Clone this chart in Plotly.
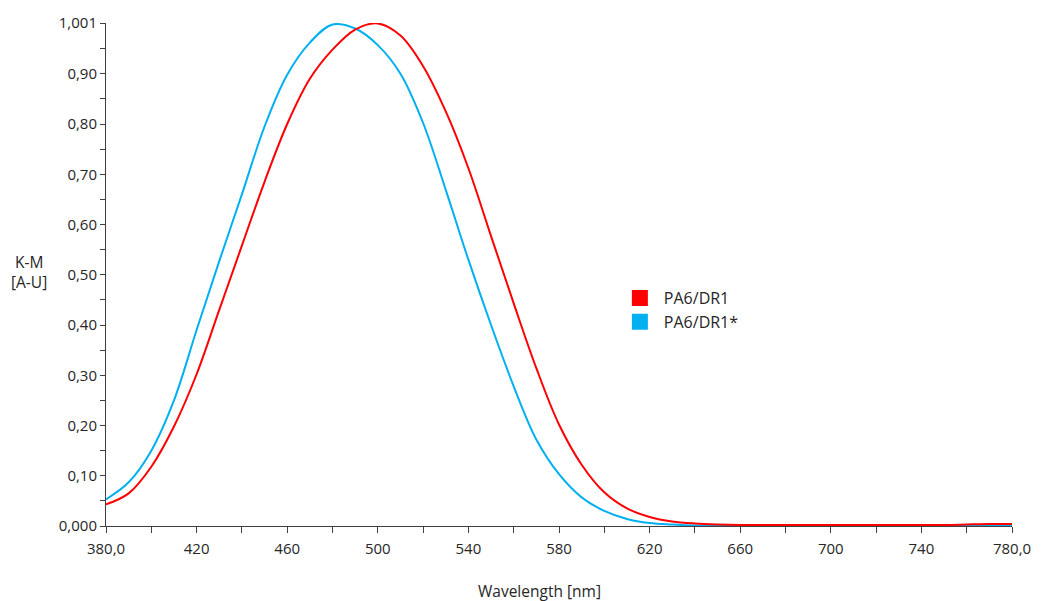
import plotly.graph_objects as go

wavelength = list(range(380, 790, 10))
pa6_dr1 = [0.043, 0.065, 0.118, 0.198, 0.302, 0.430, 0.558, 0.685, 0.800, 0.890,
           0.948, 0.988, 1.000, 0.976, 0.915, 0.825, 0.712, 0.577, 0.443, 0.314,
           0.202, 0.122, 0.067, 0.035, 0.018, 0.009, 0.005, 0.003, 0.002, 0.002,
           0.002, 0.002, 0.002, 0.002, 0.002, 0.002, 0.002, 0.002, 0.003, 0.004, 0.004]
pa6_dr1_star = [0.053, 0.087, 0.150, 0.250, 0.390, 0.527, 0.660, 0.795, 0.898, 0.962,
                0.998, 0.990, 0.957, 0.900, 0.802, 0.669, 0.530, 0.400, 0.278, 0.172,
                0.103, 0.057, 0.030, 0.014, 0.006, 0.003, 0.001, 0.0005, 0.0, 0.0,
                0.0, 0.0, 0.0, 0.0, 0.0, 0.0, 0.0, 0.0, 0.001, 0.002, 0.002]

x_tickvals = [380, 420, 460, 500, 540, 580, 620, 660, 700, 740, 780]
x_ticktext = ["380,0", "420", "460", "500", "540", "580", "620", "660", "700", "740", "780,0"]
x_minor = [400, 440, 480, 520, 560, 600, 640, 680, 720, 760]
y_tickvals = [0, 0.1, 0.2, 0.3, 0.4, 0.5, 0.6, 0.7, 0.8, 0.9, 1.001]
y_ticktext = ["0,000", "0,10", "0,20", "0,30", "0,40", "0,50", "0,60", "0,70", "0,80", "0,90", "1,001"]
y_minor = [0.05, 0.15, 0.25, 0.35, 0.45, 0.55, 0.65, 0.75, 0.85, 0.95]

RED = "#FF0000"
BLUE = "#00B0F0"
FONT = "Open Sans"
TXT = "#262626"

L, R, T, B = 106, 29, 23, 75
W, H = 1043, 601
pw = W - L - R
ph = H - T - B


def px_x(p):
    return (p - L) / pw


def px_y(p):
    return (H - B - p) / ph


fig = go.Figure()
fig.add_trace(go.Scatter(x=wavelength, y=pa6_dr1_star, mode="lines",
                         line=dict(color=BLUE, width=2, shape="spline", smoothing=1.0),
                         showlegend=False))
fig.add_trace(go.Scatter(x=wavelength, y=pa6_dr1, mode="lines",
                         line=dict(color=RED, width=2, shape="spline", smoothing=1.0),
                         showlegend=False))
fig.add_trace(go.Scatter(x=[None], y=[None], mode="markers", name="PA6/DR1",
                         marker=dict(symbol="square", size=16, color=RED)))
fig.add_trace(go.Scatter(x=[None], y=[None], mode="markers", name="PA6/DR1*",
                         marker=dict(symbol="square", size=16, color=BLUE)))

fig.update_layout(
    width=W, height=H,
    margin=dict(l=L, r=R, t=T, b=B),
    plot_bgcolor="white", paper_bgcolor="white",
    font=dict(family=FONT, size=15, color=TXT),
    legend=dict(x=px_x(617), y=px_y(281), xanchor="left", yanchor="top",
                font=dict(size=16, color=TXT),
                bgcolor="rgba(0,0,0,0)", tracegroupgap=0, itemwidth=38),
    xaxis=dict(range=[380, 780], tickvals=x_tickvals, ticktext=x_ticktext, ticks="outside", ticklen=6,
               tickcolor="#404040", showline=True, linecolor="#404040", linewidth=1, showgrid=False,
               zeroline=False, tickfont=dict(size=15, color=TXT), ticklabelstandoff=3,
               minor=dict(tickvals=x_minor, ticks="outside", ticklen=6, tickcolor="#404040")),
    yaxis=dict(range=[0, 1.001], tickvals=y_tickvals, ticktext=y_ticktext, ticks="outside", ticklen=5,
               tickcolor="#404040", showline=True, linecolor="#404040", linewidth=1, showgrid=False,
               zeroline=False, tickfont=dict(size=15, color=TXT),
               minor=dict(tickvals=y_minor, ticks="outside", ticklen=5, tickcolor="#404040")),
    annotations=[
        dict(text="K-M<br>[A-U]", x=px_x(29), y=px_y(272), xref="paper", yref="paper", showarrow=False,
             xanchor="center", yanchor="middle", font=dict(size=15.5, color=TXT)),
        dict(text="Wavelength [nm]", x=px_x(540), y=px_y(591), xref="paper", yref="paper", showarrow=False,
             xanchor="center", yanchor="middle", font=dict(size=15.5, color=TXT)),
    ],
)

fig.write_html("out.html")
